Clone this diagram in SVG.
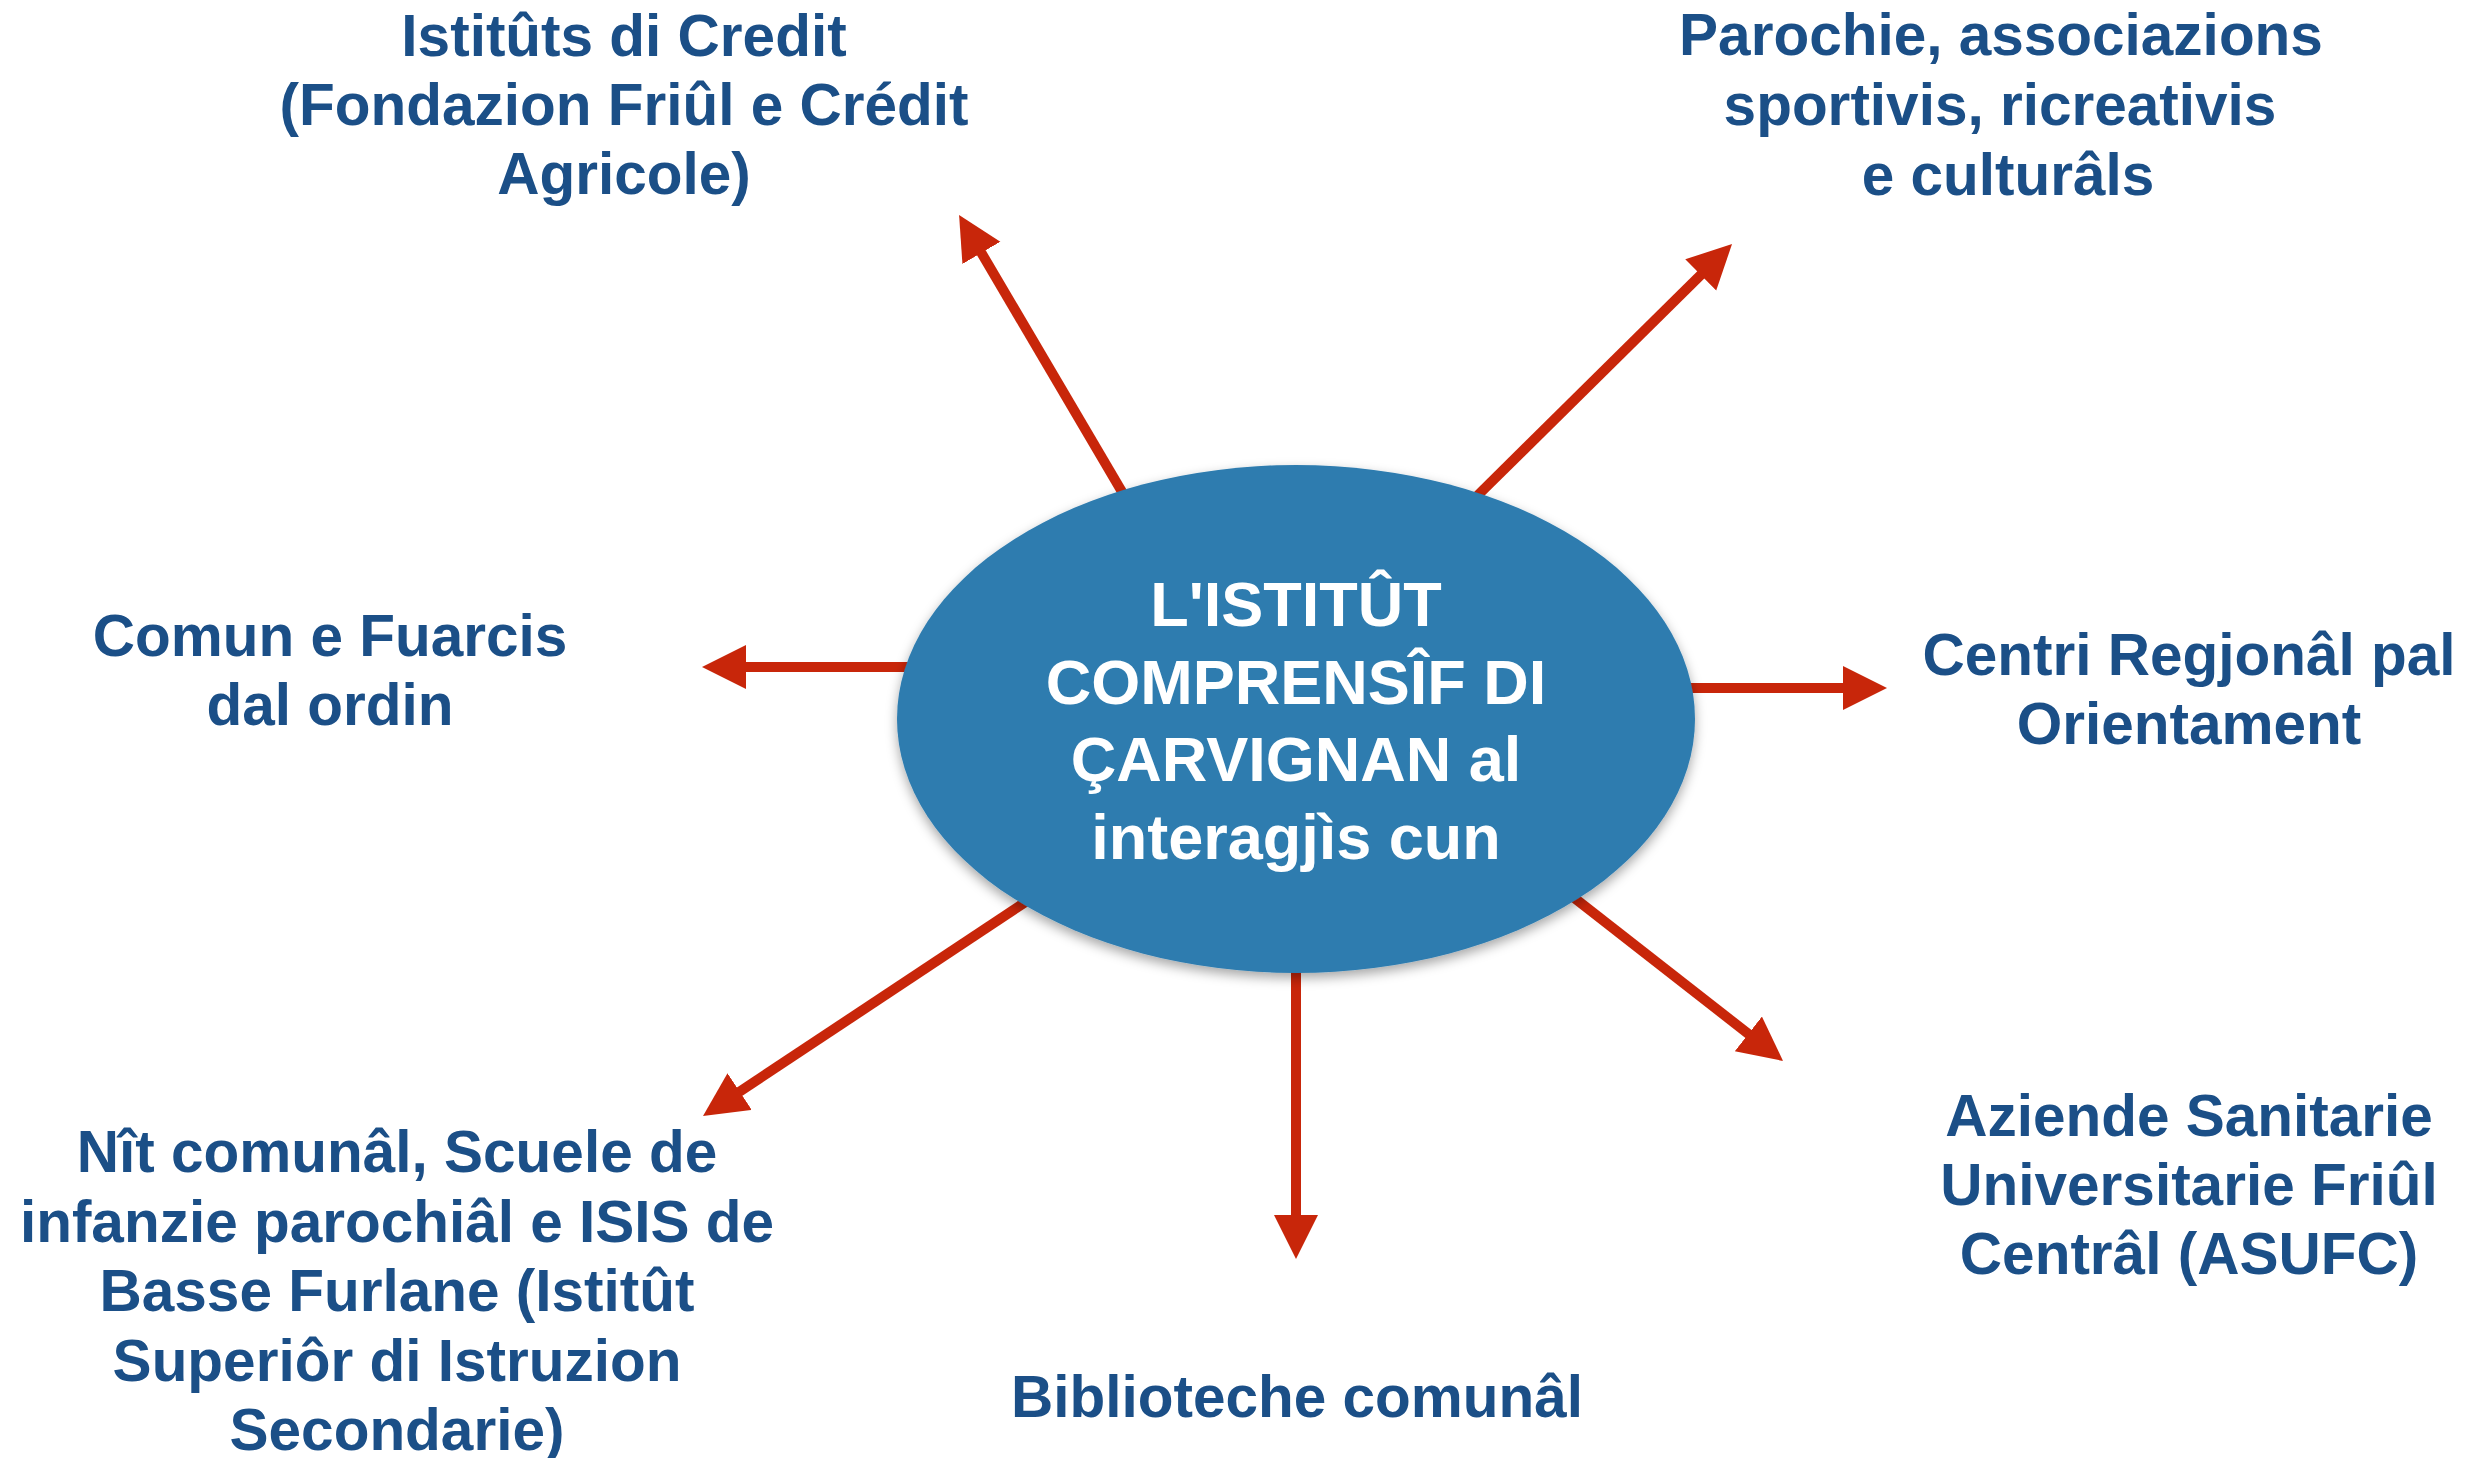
<svg xmlns="http://www.w3.org/2000/svg" width="2490" height="1458" viewBox="0 0 2490 1458">
<style>
.lbl{font-family:"Liberation Sans",Arial,sans-serif;font-weight:bold;font-size:58.5px;fill:#1B4F87;text-anchor:middle}
.ctr{font-family:"Liberation Sans",Arial,sans-serif;font-weight:bold;font-size:63px;fill:#FFFFFF;text-anchor:middle}
.arr{stroke:#C8260A;stroke-width:10;fill:none;marker-end:url(#head)}
</style>
<defs>
<marker id="head" markerUnits="userSpaceOnUse" markerWidth="46" markerHeight="46" refX="14" refY="22" orient="auto" viewBox="0 0 46 46">
<path d="M0,0 L44,22 L0,44 Z" fill="#C8260A"/>
</marker>
<filter id="sh" x="-10%" y="-10%" width="120%" height="125%">
<feDropShadow dx="0" dy="5" stdDeviation="6" flood-color="#000" flood-opacity="0.35"/>
</filter>
</defs>
<rect width="2490" height="1458" fill="#FFFFFF"/>
<g id="connectors">
<line class="arr" x1="1128" y1="502" x2="974.3" y2="240.8"/>
<line class="arr" x1="1472" y1="501" x2="1710.7" y2="265.1"/>
<line class="arr" x1="915" y1="667" x2="732" y2="667"/>
<line class="arr" x1="1680" y1="688" x2="1857" y2="688"/>
<line class="arr" x1="1030" y1="899" x2="728" y2="1099.4"/>
<line class="arr" x1="1568" y1="893" x2="1759.4" y2="1042.5"/>
<line class="arr" x1="1296" y1="960" x2="1296" y2="1229"/>
</g>
<g id="center">
<ellipse cx="1296" cy="719" rx="399" ry="254" fill="#2E7CAF" filter="url(#sh)"/>
<text class="ctr" x="1296" y="626">L'ISTITÛT</text>
<text class="ctr" x="1296" y="704">COMPRENSÎF DI</text>
<text class="ctr" x="1296" y="781">ÇARVIGNAN al</text>
<text class="ctr" x="1296" y="859">interagjìs cun</text>
</g>
<g id="n-credit">
<text class="lbl" x="624" y="56">Istitûts di Credit</text>
<text class="lbl" x="624" y="125">(Fondazion Friûl e Crédit</text>
<text class="lbl" x="624" y="194">Agricole)</text>
</g>
<g id="n-parochie">
<text class="lbl" x="2001" y="55">Parochie, associazions</text>
<text class="lbl" x="2000" y="125">sportivis, ricreativis</text>
<text class="lbl" x="2008" y="195">e culturâls</text>
</g>
<g id="n-comun">
<text class="lbl" x="330" y="656">Comun e Fuarcis</text>
<text class="lbl" x="330" y="725">dal ordin</text>
</g>
<g id="n-centri">
<text class="lbl" x="2189" y="675">Centri Regjonâl pal</text>
<text class="lbl" x="2189" y="744">Orientament</text>
</g>
<g id="n-nit">
<text class="lbl" x="397" y="1172">Nît comunâl, Scuele de</text>
<text class="lbl" x="397" y="1242">infanzie parochiâl e ISIS de</text>
<text class="lbl" x="397" y="1311">Basse Furlane (Istitût</text>
<text class="lbl" x="397" y="1381">Superiôr di Istruzion</text>
<text class="lbl" x="397" y="1450">Secondarie)</text>
</g>
<g id="n-aziende">
<text class="lbl" x="2189" y="1136">Aziende Sanitarie</text>
<text class="lbl" x="2189" y="1205">Universitarie Friûl</text>
<text class="lbl" x="2189" y="1274">Centrâl (ASUFC)</text>
</g>
<g id="n-biblioteche">
<text class="lbl" x="1297" y="1417">Biblioteche comunâl</text>
</g>
</svg>
